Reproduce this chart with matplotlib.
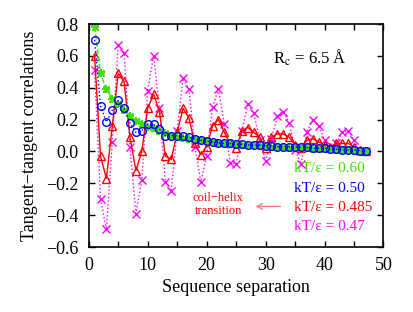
import numpy as np
import matplotlib
matplotlib.use('Agg')
import matplotlib.pyplot as plt

plt.rcParams['font.family'] = ['Liberation Serif', 'DejaVu Serif']
plt.rcParams['mathtext.fontset'] = 'stix'

# sequence separation 1..47
sep = list(range(1, 48))

# kT/eps = 0.60
corr_060 = [0.78, 0.49, 0.39, 0.33, 0.30, 0.26, 0.22, 0.19, 0.17, 0.155,
            0.145, 0.13, 0.115, 0.10, 0.09, 0.085, 0.08, 0.075, 0.07, 0.065,
            0.06, 0.055, 0.05, 0.048, 0.045, 0.042, 0.04, 0.038, 0.035, 0.032,
            0.03, 0.028, 0.026, 0.024, 0.022, 0.02, 0.019, 0.018, 0.016, 0.015,
            0.013, 0.012, 0.01, 0.008, 0.007, 0.005, 0.004]
# kT/eps = 0.50
corr_050 = [0.70, 0.285, 0.185, 0.26, 0.32, 0.27, 0.18, 0.12, 0.13, 0.17,
            0.17, 0.14, 0.10, 0.10, 0.10, 0.095, 0.09, 0.08, 0.07, 0.065,
            0.06, 0.055, 0.05, 0.05, 0.045, 0.045, 0.04, 0.04, 0.04, 0.035,
            0.035, 0.03, 0.03, 0.03, 0.03, 0.025, 0.025, 0.02, 0.02, 0.02,
            0.015, 0.015, 0.01, 0.01, 0.01, 0.005, 0.005]
# kT/eps = 0.485
corr_0485 = [0.60, -0.03, -0.17, 0.16, 0.49, 0.44, 0.09, -0.12, 0.00, 0.27,
             0.36, 0.25, -0.03, -0.05, 0.12, 0.27, 0.21, 0.05, -0.02, 0.03,
             0.16, 0.20, 0.12, 0.05, 0.02, 0.13, 0.15, 0.12, 0.09, 0.02,
             0.09, 0.11, 0.11, 0.09, 0.04, 0.02, 0.07, 0.08, 0.06, 0.04,
             0.03, 0.05, 0.05, 0.05, 0.03, 0.01, 0.00]
# kT/eps = 0.47
corr_047 = [0.51, -0.30, -0.49, 0.06, 0.67, 0.62, 0.03, -0.39, -0.18, 0.38,
            0.60, 0.27, -0.19, -0.25, 0.13, 0.46, 0.39, 0.03, -0.19, -0.03,
            0.28, 0.39, 0.17, -0.07, -0.08, 0.13, 0.30, 0.24, 0.07, -0.06,
            0.08, 0.22, 0.25, 0.18, 0.01, -0.08, 0.12, 0.20, 0.16, 0.07,
            0.02, 0.05, 0.12, 0.13, 0.07, 0.00, 0.00]

labels = ['kT/\u03b5 = 0.60', 'kT/\u03b5 = 0.50', 'kT/\u03b5 = 0.485', 'kT/\u03b5 = 0.47']
colors = ['#3ee000', '#0000ff', '#ff0000', '#ff00ff']

fig = plt.figure(figsize=(4.14, 3.12), dpi=100)
ax = fig.add_axes([0.2143, 0.2083, 0.7120, 0.7147])

ax.plot(sep, corr_047, color=colors[3], ls=':', lw=1.0, marker='x', ms=5.5, mew=1.0)
ax.plot(sep, corr_0485, color=colors[2], ls='-', lw=1.0, marker='^', ms=5.5, mfc='none', mew=1.0)
# gnuplot-style asterisk for the green series
ax.plot(sep, corr_060, color=colors[0], ls='--', lw=1.0, marker=(4, 2, 0), ms=6, mew=1.2)
ax.plot(sep, corr_060, color=colors[0], ls='none', marker=(4, 2, 45), ms=6, mew=1.2)
ax.plot(sep, corr_050, color=colors[1], ls=':', lw=1.0, marker='o', ms=5.5, mfc='none', mew=1.0)

ax.set_xlim(0, 50)
ax.set_ylim(-0.6, 0.8)
ax.set_xticks(np.arange(0, 51, 5))
ax.set_xticklabels([str(v) if v % 10 == 0 else '' for v in range(0, 51, 5)])
yt = np.arange(-0.6, 0.81, 0.2)
ax.set_yticks(yt)
ax.set_yticklabels([('%.1f' % v).replace('-', '\u2212') for v in yt])
ax.tick_params(direction='in', top=True, right=True, length=4, width=1, labelsize=13, pad=7)
for s in ax.spines.values():
    s.set_linewidth(1.2)

ax.set_xlabel('Sequence separation', fontsize=13, labelpad=4)
ax.set_ylabel('Tangent\u2212tangent correlations', fontsize=13, labelpad=6)

ax.text(37.5, 0.59, r'R$_\mathrm{c}$ = 6.5 Å', fontsize=12, ha='center', va='center')

for i, (lab, c) in enumerate(zip(labels, colors)):
    ax.text(34.8, -0.11 - i * 0.12, lab, color=c, fontsize=11, ha='left', va='center')

ax.text(22.0, -0.335, 'coil\u2212helix\ntransition', color='#ff0000', fontsize=9,
        ha='center', va='center', linespacing=1.1)
ax.annotate('', xy=(27.8, -0.345), xytext=(33.0, -0.345),
            arrowprops=dict(arrowstyle='->', color='#ff8080', lw=1.0))

fig.savefig('out.png', dpi=100)
